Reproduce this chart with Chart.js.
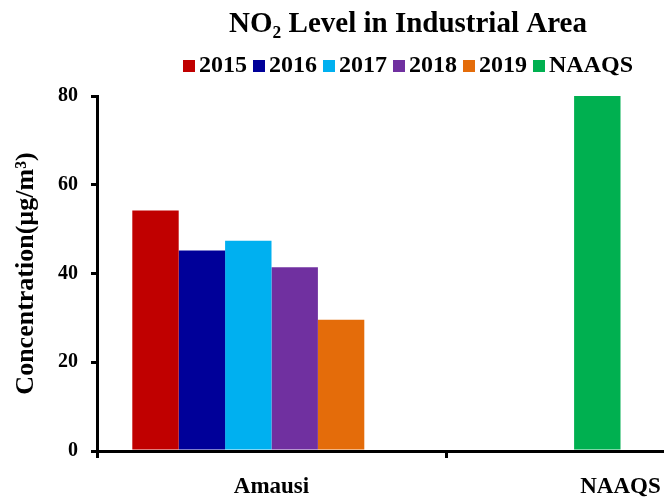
<!DOCTYPE html>
<html>
<head>
<meta charset="utf-8">
<script src="https://cdn.jsdelivr.net/npm/chart.js@4.4.1/dist/chart.umd.min.js"></script>
<style>
  html, body { margin: 0; padding: 0; background: #fff; overflow: hidden; width: 664px; height: 498px; }
  #wrap { width: 816px; height: 498px; }
</style>
</head>
<body>
<div id="wrap"><canvas id="chart" width="816" height="498"></canvas></div>
<script>
// NO2 concentrations (µg/m³) at the Amausi industrial site, with the NAAQS limit
const categories = ['Amausi', 'NAAQS'];
const years = ['2015', '2016', '2017', '2018', '2019'];
const amausiValues = [54.2, 45.2, 47.4, 41.4, 29.6];
const naaqsLabel = 'NAAQS';
const naaqsLimit = 80;
const yTicks = [0, 20, 40, 60, 80];

const yearColors = ['#C00000', '#000099', '#00B0F0', '#7030A0', '#E46C0A'];
const naaqsColor = '#00B050';
const serif = '"Liberation Serif", "Times New Roman", serif';

// six column slots per category: five years plus one empty slot;
// the NAAQS column shares the third slot
const slotShare = 0.7977;
const datasets = years.map((yr, i) => ({
  label: yr,
  data: [amausiValues[i], null],
  backgroundColor: yearColors[i],
  stack: 'slot' + i,
  categoryPercentage: slotShare,
  barPercentage: 1
}));
datasets.push({
  label: naaqsLabel,
  data: [null, naaqsLimit],
  backgroundColor: naaqsColor,
  stack: 'slot2',
  categoryPercentage: slotShare,
  barPercentage: 1
});
datasets.push({
  label: '',
  data: [null, null],
  stack: 'slot5',
  categoryPercentage: slotShare,
  barPercentage: 1
});

// Single-row legend with small square swatches set tight against the labels
const legendRow = {
  id: 'legendRow',
  afterDraw(chart) {
    const ctx = chart.ctx;
    ctx.save();
    ctx.font = 'bold 24px ' + serif;
    const box = 12, gapIn = 4, gapOut = 6;
    const items = chart.data.datasets.filter(ds => ds.label).map(ds => ({
      text: ds.label,
      color: ds.backgroundColor,
      w: ctx.measureText(ds.label).width
    }));
    const total = items.reduce((s, it) => s + box + gapIn + it.w, 0) + gapOut * (items.length - 1);
    let x = chart.width / 2 - total / 2;
    const cy = 66;
    ctx.textBaseline = 'middle';
    ctx.textAlign = 'left';
    items.forEach(it => {
      ctx.fillStyle = it.color;
      ctx.fillRect(x, cy - 6, box, box);
      x += box + gapIn;
      ctx.fillStyle = '#000';
      ctx.fillText(it.text, x, cy - 0.5);
      x += it.w + gapOut;
    });
    ctx.restore();
  }
};

new Chart(document.getElementById('chart'), {
  type: 'bar',
  data: { labels: categories, datasets },
  plugins: [legendRow],
  options: {
    responsive: false,
    animation: false,
    events: [],
    layout: { padding: 0 },
    plugins: {
      legend: { display: false },
      tooltip: { enabled: false },
      title: {
        display: true,
        text: 'NO₂ Level in Industrial Area',
        color: '#000',
        font: { family: serif, size: 29, weight: 'bold' },
        padding: { top: 7.6, bottom: 53.6 }
      }
    },
    scales: {
      x: {
        afterFit: s => { s.height = 47; },
        grid: { display: true, offset: true, drawOnChartArea: false, drawTicks: true, tickLength: 7, color: '#000', lineWidth: 3 },
        border: { display: true, color: '#000', width: 3 },
        ticks: { color: '#000', padding: 15, font: { family: serif, size: 23, weight: 'bold' } }
      },
      y: {
        min: 0,
        max: 80,
        stacked: false,
        afterFit: s => { s.width = 97; },
        afterBuildTicks: s => { s.ticks = yTicks.map(v => ({ value: v })); },
        grid: { display: true, drawOnChartArea: false, drawTicks: true, tickLength: 6, color: '#000', lineWidth: 3 },
        border: { display: true, color: '#000', width: 3 },
        ticks: { color: '#000', padding: 13, font: { family: serif, size: 20, weight: 'bold' } },
        title: {
          display: true,
          text: 'Concentration(µg/m³)',
          color: '#000',
          padding: { top: 11, bottom: 0 },
          font: { family: serif, size: 26, weight: 'bold' }
        }
      },
      // blank right-hand margin so the plot area ends where the category axis should
      margin: {
        type: 'linear',
        position: 'right',
        afterFit: s => { s.width = 21; },
        grid: { display: false },
        border: { display: false },
        ticks: { display: false }
      }
    }
  }
});
</script>
</body>
</html>
